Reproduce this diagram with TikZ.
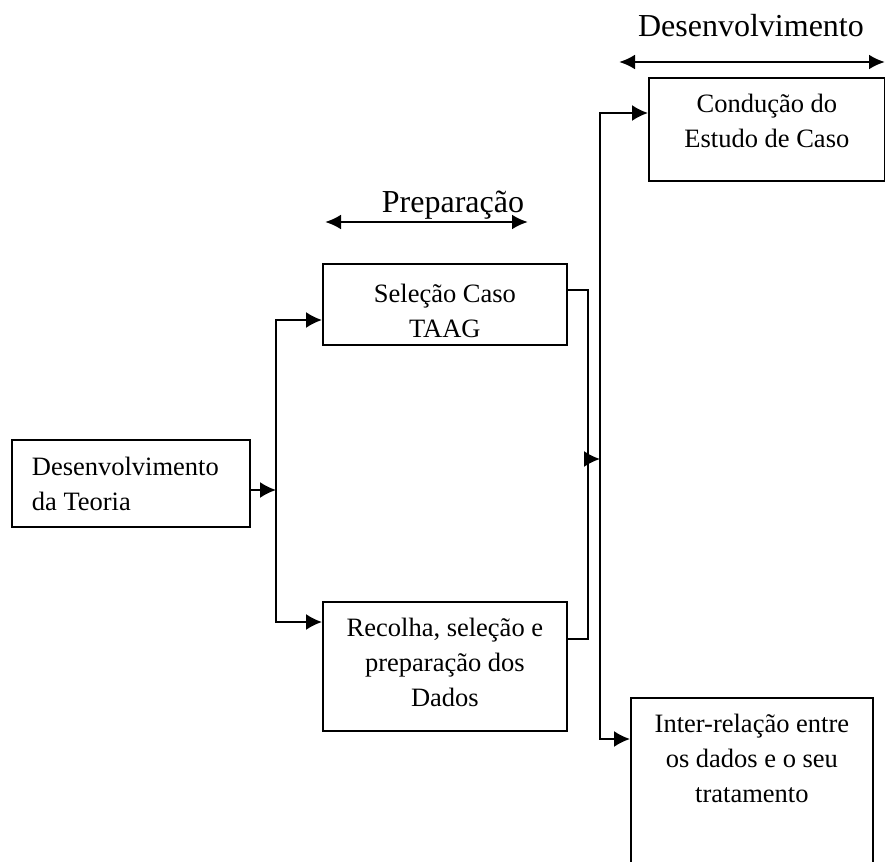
\documentclass[tikz,border=0pt]{standalone}
\usepackage{fontspec}
\setmainfont{Liberation Serif}
\usetikzlibrary{arrows.meta}
\tikzstyle{block} = [rectangle, draw, line width=0.9pt, inner sep=0pt, anchor=north west]
\tikzstyle{line} = [draw, line width=1pt, -{Latex[length=8pt,width=8pt]}]
\tikzstyle{link} = [draw, line width=1pt]
\tikzstyle{span} = [draw, line width=1.4pt, {Latex[length=8pt,width=7.5pt]}-{Latex[length=8pt,width=7.5pt]}]
\tikzstyle{phase} = [anchor=base, inner sep=0pt, font=\fontsize{16}{19}\selectfont]
\newcommand{\blocktext}[4][17.5pt]{\parbox[c][#3][t]{#2}{\centering\rule{0pt}{#1}#4}}

\begin{document}
\begin{tikzpicture}[x=0.5pt, y=-0.5pt]
\tikzstyle{every node}=[font=\fontsize{13.25}{17.5}\selectfont]
\useasboundingbox (0,0) rectangle (885,862);
\clip (0,0) rectangle (885,862);
\node[block] (teoria) at (11,439) {\blocktext[18pt]{119pt}{43.5pt}{\raggedright\leftskip=10pt Desenvolvimento\\da Teoria}};
\node[block] (selecao) at (322,263) {\blocktext[19.5pt]{122pt}{40.5pt}{Seleção Caso\\TAAG}};
\node[block] (recolha) at (322,601) {\blocktext{122pt}{64.5pt}{Recolha, seleção e\\preparação dos\\Dados}};
\node[block] (conducao) at (648,77) {\blocktext{118pt}{51.5pt}{Condução do\\Estudo de Caso}};
\node[block] (inter) at (630,697) {\blocktext{121pt}{91.5pt}{Inter-relação entre\\os dados e o seu\\tratamento}};
\node[phase] (prep) at (453,212) {Preparação};
\node[phase] (desenv) at (751,36) {Desenvolvimento};
\coordinate (prep_l) at (325,222);
\coordinate (prep_r) at (528,222);
\coordinate (desenv_l) at (619,62);
\coordinate (desenv_r) at (885,62);
\coordinate (split1) at (276,490);
\coordinate (merge) at (588,459);
\coordinate (split2) at (600,459);
\path [line] ([yshift=-25.5pt]teoria.north east) -- (split1);
\path [line] (split1) |- ([yshift=-28.5pt]selecao.north west);
\path [line] (split1) |- ([yshift=-10.5pt]recolha.north west);
\path [link] ([yshift=-13.5pt]selecao.north east) -| (merge) |- ([yshift=-19pt]recolha.north east);
\path [line] (merge) -- (split2);
\path [line] (split2) |- ([yshift=-18pt]conducao.north west);
\path [line] (split2) |- ([yshift=-21pt]inter.north west);
\path [span] (prep_l) -- (prep_r);
\path [span] (desenv_l) -- (desenv_r);
\end{tikzpicture}
\end{document}
